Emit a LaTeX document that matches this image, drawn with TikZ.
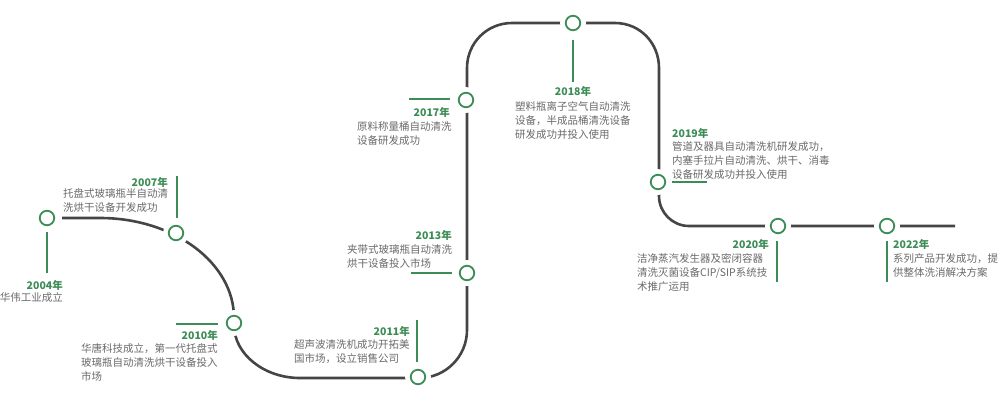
\documentclass[tikz,border=0pt]{standalone}
\usepackage{fontspec}
\setmainfont{Noto Sans CJK SC}
\usetikzlibrary{calc}
\definecolor{tlgreen}{HTML}{3C8C55}
\definecolor{tlgray}{HTML}{6A6A6A}
\definecolor{tlpath}{HTML}{454545}
\begin{document}
\begin{tikzpicture}[x=1pt,y=-1pt,
  evt/.style={circle,draw=tlgreen,line width=1.8pt,fill=white,minimum size=14.5pt,inner sep=0pt},
  gap/.style={circle,fill=white,minimum size=26pt,inner sep=0pt},
  tick/.style={draw=tlgreen,line width=1.6pt},
  yr/.style={text=tlgreen,inner sep=0pt,font=\fontsize{10.5}{12}\selectfont\bfseries},
  desc/.style={text=tlgray,inner sep=0pt,font=\fontsize{10.5}{14}\selectfont},
  road/.style={draw=tlpath,line width=2.6pt}]
\useasboundingbox (0,0) rectangle (1000,400);
% timeline road
\draw[road] (62,218) -- (100,218) .. controls (174,218) and (234,263) .. (234,318)
  -- (234,325) .. controls (234,354) and (264,378) .. (300,378)
  -- (419,378) .. controls (445.5,378) and (467,356.5) .. (467,330)
  -- (467,68) .. controls (467,43) and (487,23) .. (512,23)
  -- (615,23) .. controls (640,23) and (659,43) .. (659,68)
  -- (659,196) .. controls (659,212.5) and (672.5,226) .. (689,226) -- (955,226);
% gaps around event markers
\foreach \p in {(47,218),(176,233),(234,323),(418,377),(467,273),(466,100),(573,23),(658,182),(778,226),(887,226)}
  \node[gap] at \p {};
% event markers
\node[evt] (c04) at (47,218) {};
\node[evt] (c07) at (176,233) {};
\node[evt] (c10) at (234,323) {};
\node[evt] (c11) at (418,377) {};
\node[evt] (c13) at (467,273) {};
\node[evt] (c17) at (466,100) {};
\node[evt] (c18) at (573,23) {};
\node[evt] (c19) at (658,182) {};
\node[evt] (c20) at (778,226) {};
\node[evt] (c22) at (887,226) {};
% ticks
\draw[tick] ($(c04)+(0,14)$) -- ($(c04)+(0,55)$);
\draw[tick] ($(c07)+(1,-15)$) -- ($(c07)+(1,-57)$);
\draw[tick] ($(c10)+(-16,1)$) -- ($(c10)+(-58,1)$);
\draw[tick] ($(c11)+(-1,-15)$) -- ($(c11)+(-1,-57)$);
\draw[tick] ($(c13)+(-15,0)$) -- ($(c13)+(-56,0)$);
\draw[tick] ($(c17)+(-16,-1)$) -- ($(c17)+(-57,-1)$);
\draw[tick] ($(c18)+(0,17)$) -- ($(c18)+(0,59)$);
\draw[tick] ($(c19)+(14,0)$) -- ($(c19)+(49,0)$);
\draw[tick] ($(c20)+(-1,15)$) -- ($(c20)+(-1,56)$);
\draw[tick] ($(c22)+(0,15)$) -- ($(c22)+(0,56)$);
% labels
\node[yr,anchor=east] (y04) at (63,285) {2004年};
\node[desc,anchor=north east,align=right] (t04) at (63,292) {华伟工业成立};
\node[yr,anchor=east] (y07) at (168,182) {2007年};
\node[desc,anchor=north west,align=left] (t07) at (63,188) {托盘式玻璃瓶半自动清\\洗烘干设备开发成功};
\node[yr,anchor=east] (y10) at (218,335) {2010年};
\node[desc,anchor=north west,align=left] (t10) at (81,343) {华唐科技成立，第一代托盘式\\玻璃瓶自动清洗烘干设备投入\\市场};
\node[yr,anchor=east] (y11) at (410,331) {2011年};
\node[desc,anchor=north west,align=left] (t11) at (294,339) {超声波清洗机成功开拓美\\国市场，设立销售公司};
\node[yr,anchor=east] (y13) at (452,235) {2013年};
\node[desc,anchor=north west,align=left] (t13) at (347,244) {夹带式玻璃瓶自动清洗\\烘干设备投入市场};
\node[yr,anchor=east] (y17) at (450,112) {2017年};
\node[desc,anchor=north west,align=left] (t17) at (357,121) {原料称量桶自动清洗\\设备研发成功};
\node[yr] (y18) at (573,91) {2018年};
\node[desc,anchor=north west,align=left] (t18) at (515,101) {塑料瓶离子空气自动清洗\\设备，半成品桶清洗设备\\研发成功并投入使用};
\node[yr,anchor=west] (y19) at (672,133) {2019年};
\node[desc,anchor=north west,align=left] (t19) at (672,141) {管道及器具自动清洗机研发成功，\\内塞手拉片自动清洗、烘干、消毒\\设备研发成功并投入使用};
\node[yr,anchor=east] (y20) at (769,244) {2020年};
\node[desc,anchor=north west,align=left] (t20) at (637,253) {洁净蒸汽发生器及密闭容器\\清洗灭菌设备CIP/SIP系统技\\术推广运用};
\node[yr,anchor=west] (y22) at (893,244) {2022年};
\node[desc,anchor=north west,align=left] (t22) at (893,253) {系列产品开发成功，提\\供整体洗消解决方案};
\end{tikzpicture}
\end{document}
